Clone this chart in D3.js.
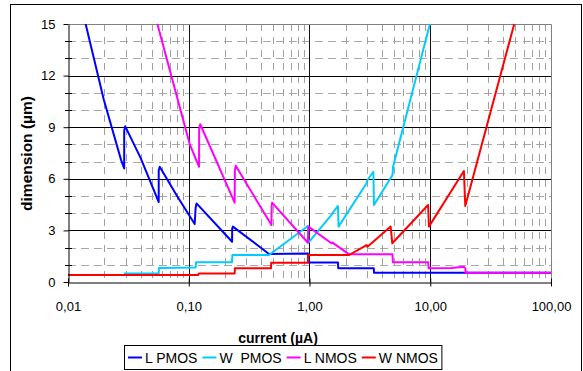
<!DOCTYPE html>
<html>
<head>
<meta charset="utf-8">
<script src="https://cdn.jsdelivr.net/npm/d3@7/dist/d3.min.js"></script>
<style>
  body { margin: 0; background: #fff; }
  svg text { font-family: "Liberation Sans", Arial, sans-serif; }
</style>
</head>
<body>
<div id="chart"></div>
<script>
// dimensions vs current, log x axis
var xTicks = [0.01, 0.1, 1, 10, 100];
var xTickLabels = ["0,01", "0,10", "1,00", "10,00", "100,00"];
var yTicks = [0, 3, 6, 9, 12, 15];

var seriesNames = ["L PMOS", "W  PMOS", "L NMOS", "W NMOS"];
var seriesColors = ["#0000ff", "#00ccff", "#ff00ff", "#ff0000"];

var lPmos = [[0.0140, 15.0], [0.0198, 10.6], [0.0275, 7.1], [0.0292, 6.6], [0.0292, 8.8], [0.0298, 9.05],
  [0.0400, 7.2], [0.0564, 4.65], [0.0564, 6.5], [0.0575, 6.7], [0.0800, 5.0], [0.112, 3.37], [0.114, 4.3],
  [0.116, 4.57], [0.2285, 2.34], [0.229, 3.1], [0.232, 3.22], [0.462, 1.63], [0.97, 1.66], [0.98, 1.14],
  [1.72, 1.14], [1.73, 0.8], [3.41, 0.8], [3.42, 0.54], [100, 0.54]];

var wPmos = [[0.029, 0.5], [0.0564, 0.5], [0.0566, 0.82], [0.114, 0.85], [0.115, 1.15], [0.228, 1.15],
  [0.230, 1.57], [0.462, 1.57], [0.97, 3.26], [0.98, 2.29], [1.52, 3.9], [1.55, 4.0], [1.72, 4.42],
  [1.74, 3.22], [2.97, 5.74], [3.0, 5.9], [3.38, 6.41], [3.42, 4.48], [4.87, 6.22], [4.92, 6.7], [9.93, 15]];

var lNmos = [[0.055, 15], [0.102, 8.0], [0.1217, 6.7], [0.122, 8.9], [0.1245, 9.17], [0.24, 4.61],
  [0.241, 6.5], [0.245, 6.76], [0.484, 3.31], [0.486, 4.4], [0.49, 4.61], [0.97, 2.28], [0.98, 3.22],
  [1.52, 2.25], [1.54, 2.3], [2.13, 1.61], [4.87, 1.61], [4.9, 1.15], [9.6, 1.15], [9.7, 0.8],
  [15, 0.82], [19.0, 0.88], [19.5, 0.8], [19.7, 0.54], [100, 0.54]];

var wNmos = [[0.01, 0.41], [0.12, 0.41], [0.121, 0.5], [0.24, 0.5], [0.241, 0.8], [0.48, 0.8],
  [0.482, 1.12], [0.97, 1.12], [0.975, 1.57], [2.13, 1.57], [2.97, 2.15], [3.02, 2.05], [4.7, 3.22],
  [4.85, 2.25], [9.6, 4.48], [9.75, 3.22], [19.0, 6.45], [19.5, 4.42], [49.6, 15]];

var allSeries = [lPmos, wPmos, lNmos, wNmos];

var width = 583, height = 371;
var margin = {top: 24, right: 32, bottom: 89, left: 68};
var plotW = width - margin.left - margin.right;
var plotH = height - margin.top - margin.bottom;

var svg = d3.select("#chart").append("svg")
    .attr("width", width)
    .attr("height", height);

// outer frame
svg.append("rect")
    .attr("x", 10.5).attr("y", 4.5)
    .attr("width", 571).attr("height", 372)
    .attr("fill", "none").attr("stroke", "#000");

var g = svg.append("g")
    .attr("transform", "translate(" + margin.left + "," + margin.top + ")");

var x = d3.scaleLog().domain([0.01, 100]).range([0, plotW]);
var y = d3.scaleLinear().domain([0, 15]).range([plotH, 0]);

// minor grid
var minorX = [];
for (var d = 0.01; d < 100; d *= 10) {
  for (var k = 2; k <= 9; k++) minorX.push(d * k);
}
var minorY = d3.range(1, 15).filter(function(v) { return v % 3 != 0; });

g.append("g").selectAll("line")
  .data(minorY).enter().append("line")
    .attr("x1", 0).attr("x2", plotW)
    .attr("y1", function(d) { return Math.round(y(d)) + 0.5; })
    .attr("y2", function(d) { return Math.round(y(d)) + 0.5; })
    .attr("stroke", "#a8a8a8").attr("stroke-dasharray", "8,5");

g.append("g").selectAll("line")
  .data(minorX).enter().append("line")
    .attr("y1", 0).attr("y2", plotH)
    .attr("x1", function(d) { return Math.round(x(d)) + 0.5; })
    .attr("x2", function(d) { return Math.round(x(d)) + 0.5; })
    .attr("stroke", "#a0a0a0").attr("stroke-dasharray", "7,6");

// major grid
g.append("g").selectAll("line")
  .data(yTicks.slice(1, -1)).enter().append("line")
    .attr("x1", 0).attr("x2", plotW)
    .attr("y1", function(d) { return Math.round(y(d)) + 0.5; })
    .attr("y2", function(d) { return Math.round(y(d)) + 0.5; })
    .attr("stroke", "#000");

g.append("g").selectAll("line")
  .data(xTicks.slice(1, -1)).enter().append("line")
    .attr("y1", 0).attr("y2", plotH)
    .attr("x1", function(d) { return Math.round(x(d)) + 0.5; })
    .attr("x2", function(d) { return Math.round(x(d)) + 0.5; })
    .attr("stroke", "#111");

// plot border top / right
g.append("path")
    .attr("d", "M0.5,0.5H" + (Math.round(plotW) + 0.5) + "V" + plotH)
    .attr("fill", "none").attr("stroke", "#808080");

// data lines
g.append("clipPath").attr("id", "clip")
  .append("rect").attr("width", plotW).attr("height", plotH);

var line = d3.line()
    .x(function(d) { return x(d[0]); })
    .y(function(d) { return y(d[1]); });

g.append("g").attr("clip-path", "url(#clip)")
  .selectAll("path")
  .data(allSeries).enter().append("path")
    .attr("d", line)
    .attr("fill", "none")
    .attr("stroke", function(d, i) { return seriesColors[i]; })
    .attr("stroke-width", 2)
    .attr("stroke-linejoin", "round");

// axes
var yAxis = g.append("g")
    .attr("transform", "translate(0.5,0)")
    .call(d3.axisLeft(y).tickValues(yTicks).tickSize(5).tickPadding(8).tickSizeOuter(0));
yAxis.selectAll("text").attr("font-size", 13).attr("fill", "#000").style("font-family", "Liberation Sans, Arial, sans-serif");
yAxis.select(".domain").attr("stroke", "#000");

g.append("g").selectAll("line")
  .data(minorY).enter().append("line")
    .attr("x1", -3).attr("x2", 4)
    .attr("y1", function(d) { return Math.round(y(d)) + 0.5; })
    .attr("y2", function(d) { return Math.round(y(d)) + 0.5; })
    .attr("stroke", "#000");

var xAxis = g.append("g")
    .attr("transform", "translate(0," + (plotH + 0.5) + ")")
    .call(d3.axisBottom(x).tickValues(xTicks).tickSize(4).tickPadding(15).tickSizeOuter(0)
      .tickFormat(function(d, i) { return xTickLabels[i]; }));
xAxis.selectAll(".tick line").attr("y1", -4);
xAxis.selectAll("text").attr("font-size", 13).attr("fill", "#000").style("font-family", "Liberation Sans, Arial, sans-serif");
xAxis.select(".domain").attr("stroke", "#000");

// titles
svg.append("text")
    .attr("x", 278)
    .attr("y", 343)
    .attr("text-anchor", "middle")
    .attr("font-size", 14).attr("font-weight", "bold")
    .text("current (µA)");

svg.append("text")
    .attr("transform", "translate(32,153.5) rotate(-90)")
    .attr("text-anchor", "middle")
    .attr("font-size", 15.5).attr("font-weight", "bold")
    .text("dimension (µm)");

// legend
var legend = svg.append("g");
var legendBox = legend.append("rect")
    .attr("x", 124.5).attr("y", 345.5)
    .attr("height", 24)
    .attr("fill", "#fff").attr("stroke", "#000");

var lx = 128;
seriesNames.forEach(function(name, i) {
  legend.append("line")
      .attr("x1", lx).attr("x2", lx + 14)
      .attr("y1", 357.5).attr("y2", 357.5)
      .attr("stroke", seriesColors[i]).attr("stroke-width", 2);
  var t = legend.append("text")
      .attr("x", lx + 17)
      .attr("y", 363)
      .attr("font-size", 14)
      .attr("xml:space", "preserve")
      .style("white-space", "pre")
      .text(name);
  lx += 17 + t.node().getComputedTextLength() + 5;
});
legendBox.attr("width", lx - 124.5 - 1);
</script>
</body>
</html>
